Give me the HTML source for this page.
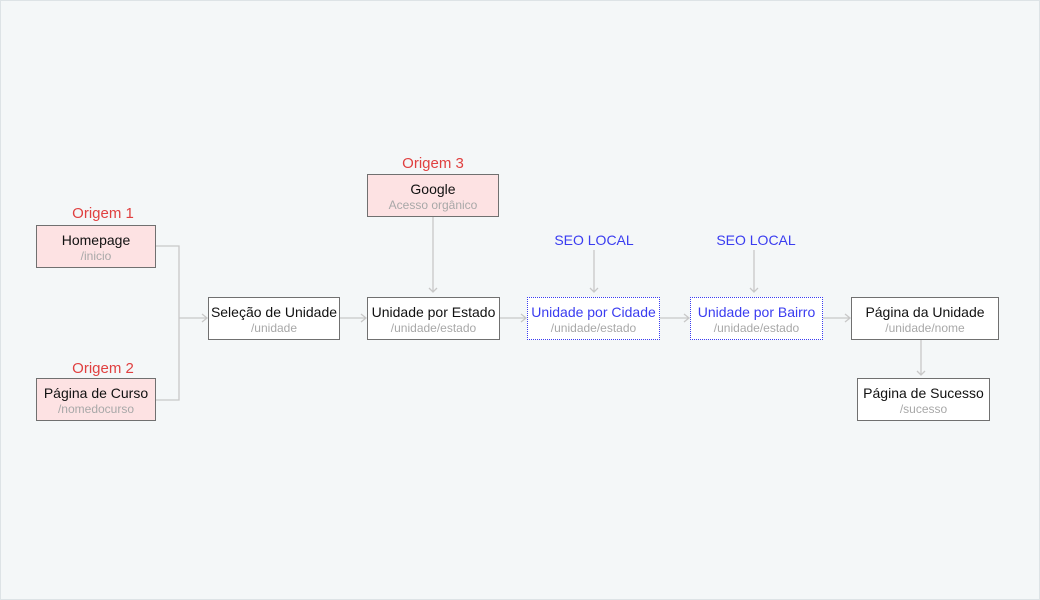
<!DOCTYPE html>
<html><head><meta charset="utf-8"><style>
html,body{margin:0;padding:0}
body{width:1040px;height:600px;background:#f4f7f8;position:relative;overflow:hidden;font-family:"Liberation Sans",sans-serif}
.frame{position:absolute;left:0;top:0;width:1038px;height:598px;border:1px solid #dde3e6}
.b{position:absolute;box-sizing:border-box;border:1px solid #707070;background:#fff;text-align:center}
.p{background:#fde2e3}
.d{border:1px dotted #3a3cf0;background:#fff}
.t{font-size:14px;color:#111;line-height:16px;margin-top:6px;white-space:nowrap}
.d .t{color:#3a3cf0}
.s{font-size:12px;color:#a8a8a8;line-height:14px;margin-top:1px;white-space:nowrap}
.o{position:absolute;font-size:15px;color:#e04040;text-align:center;width:140px}
.seo{position:absolute;font-size:14px;color:#3a3cf0;text-align:center;width:120px}
svg{position:absolute;left:0;top:0}
</style></head><body>
<div class="frame"></div>
<svg width="1040" height="600" fill="none" stroke="#c8c8c8" stroke-width="1.3">
<path d="M155 246H179V400H155M179 318H207"/>
<path d="M202 314l5 4-5 4"/>
<path d="M339 318H366M361 314l5 4-5 4"/>
<path d="M499 318H526M521 314l5 4-5 4"/>
<path d="M659 318H689M684 314l5 4-5 4"/>
<path d="M822 318H850M845 314l5 4-5 4"/>
<path d="M433 217V292M429 288l4 4 4-4"/>
<path d="M594 250V292M590 288l4 4 4-4"/>
<path d="M754 250V292M750 288l4 4 4-4"/>
<path d="M921 340V375M917 371l4 4 4-4"/>
</svg>
<div class="o" style="left:33px;top:205px">Origem 1</div>
<div class="o" style="left:33px;top:360px">Origem 2</div>
<div class="o" style="left:363px;top:155px">Origem 3</div>
<div class="seo" style="left:534px;top:232px">SEO LOCAL</div>
<div class="seo" style="left:696px;top:232px">SEO LOCAL</div>
<div class="b p" style="left:36px;top:225px;width:120px;height:43px"><div class="t">Homepage</div><div class="s">/inicio</div></div>
<div class="b p" style="left:36px;top:378px;width:120px;height:43px"><div class="t">Página de Curso</div><div class="s">/nomedocurso</div></div>
<div class="b p" style="left:367px;top:174px;width:132px;height:43px"><div class="t">Google</div><div class="s">Acesso orgânico</div></div>
<div class="b" style="left:208px;top:297px;width:132px;height:43px"><div class="t">Seleção de Unidade</div><div class="s">/unidade</div></div>
<div class="b" style="left:367px;top:297px;width:133px;height:43px"><div class="t">Unidade por Estado</div><div class="s">/unidade/estado</div></div>
<div class="b d" style="left:527px;top:297px;width:133px;height:43px"><div class="t">Unidade por Cidade</div><div class="s">/unidade/estado</div></div>
<div class="b d" style="left:690px;top:297px;width:133px;height:43px"><div class="t">Unidade por Bairro</div><div class="s">/unidade/estado</div></div>
<div class="b" style="left:851px;top:297px;width:148px;height:43px"><div class="t">Página da Unidade</div><div class="s">/unidade/nome</div></div>
<div class="b" style="left:857px;top:378px;width:133px;height:43px"><div class="t">Página de Sucesso</div><div class="s">/sucesso</div></div>
</body></html>
